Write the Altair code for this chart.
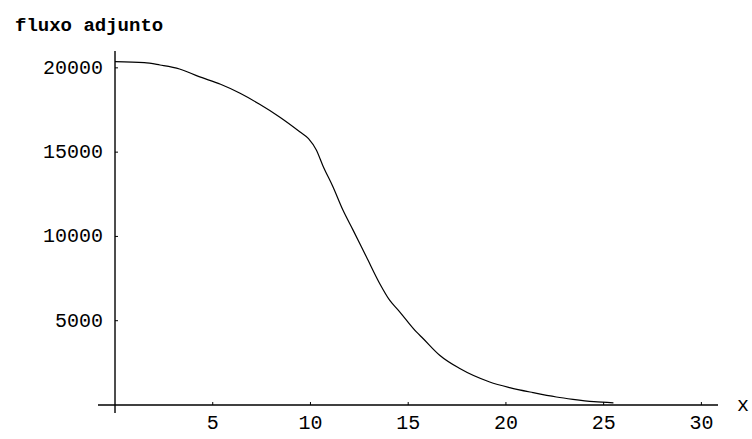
import altair as alt
import pandas as pd

# curve
x_vals = [0, 1.5, 2.3, 3.3, 4.3, 5.4, 6.4, 7.4, 8.4, 9.45, 9.9, 10.3, 10.64, 11.15,
          11.66, 12.18, 12.86, 13.54, 14.05, 14.49, 14.91, 15.42, 15.76, 16.61, 17.64,
          19.17, 20.19, 21.38, 22.58, 23.43, 24.5, 25.5]
y_vals = [20370, 20310, 20170, 19935, 19477, 19026, 18492, 17838, 17102, 16211, 15800,
          15125, 14180, 12945, 11562, 10374, 8789, 7209, 6217, 5624, 5030, 4335, 3943,
          2951, 2162, 1366, 1033, 736, 475, 338, 200, 130]

x_ticks = [5, 10, 15, 20, 25, 30]
x_tick_labels = ["5", "10", "15", "20", "25", "30"]
y_ticks = [5000, 10000, 15000, 20000]
y_tick_labels = ["5000", "10000", "15000", "20000"]
title_text = "fluxo adjunto"
x_label = "x"

FONT = "Liberation Mono"

curve = pd.DataFrame({"x": x_vals, "y": y_vals})
xt = pd.DataFrame({"x": x_ticks, "label": x_tick_labels, "y": [0] * len(x_ticks)})
yt = pd.DataFrame({"y": y_ticks, "label": y_tick_labels, "x": [0] * len(y_ticks)})
origin = pd.DataFrame({"x": [0], "y": [0], "t": [x_label]})

xs = alt.Scale(domain=[-0.87, 30.85], nice=False, zero=False)
ys = alt.Scale(domain=[-475, 21000], nice=False, zero=False)


def X(f="x"):
    return alt.X(f"{f}:Q", scale=xs, axis=None)


def Y(f="y"):
    return alt.Y(f"{f}:Q", scale=ys, axis=None)


W, H = 620, 362

line = alt.Chart(curve).mark_line(color="black", strokeWidth=1.2, interpolate="monotone").encode(
    x=X(), y=Y()
)

x_axis = alt.Chart(origin).mark_rule(color="black", strokeWidth=1.4).encode(
    y=Y(), x=alt.value(0), x2=alt.value(W)
)
y_axis = alt.Chart(origin).mark_rule(color="black", strokeWidth=1.4).encode(
    x=X(), y=alt.value(0), y2=alt.value(H)
)

x_tick_marks = alt.Chart(xt).mark_point(
    shape="M0,0L0,-1", size=36, filled=False, color="black", strokeWidth=1, opacity=1
).encode(x=X(), y=Y())
y_tick_marks = alt.Chart(yt).mark_point(
    shape="M0,0L1,0", size=36, filled=False, color="black", strokeWidth=1, opacity=1
).encode(x=X(), y=Y())

x_tick_text = alt.Chart(xt).mark_text(
    font=FONT, fontSize=20, align="center", baseline="middle", dy=18, color="black"
).encode(x=X(), y=Y(), text="label:N")
y_tick_text = alt.Chart(yt).mark_text(
    font=FONT, fontSize=20, align="right", baseline="middle", dx=-12, color="black"
).encode(x=X(), y=Y(), text="label:N")

x_name = alt.Chart(origin).mark_text(
    font=FONT, fontSize=20, align="center", baseline="middle", color="black"
).encode(x=alt.value(W + 25), y=Y(), text="t:N")

chart = alt.layer(
    x_axis, y_axis, x_tick_marks, y_tick_marks, x_tick_text, y_tick_text, x_name, line
).properties(
    width=W,
    height=H,
    autosize=alt.AutoSizeParams(type="none"),
    padding={"left": 98, "top": 51, "right": 34, "bottom": 26},
    title=alt.TitleParams(
        text=title_text,
        anchor="start",
        frame="group",
        dx=-83,
        offset=0,
        baseline="alphabetic",
        font=FONT,
        fontSize=19,
        fontWeight="bold",
        color="black",
    ),
    background="white",
).configure_view(stroke=None)

chart.save("out.html", embed_options={"renderer": "svg", "actions": False})
